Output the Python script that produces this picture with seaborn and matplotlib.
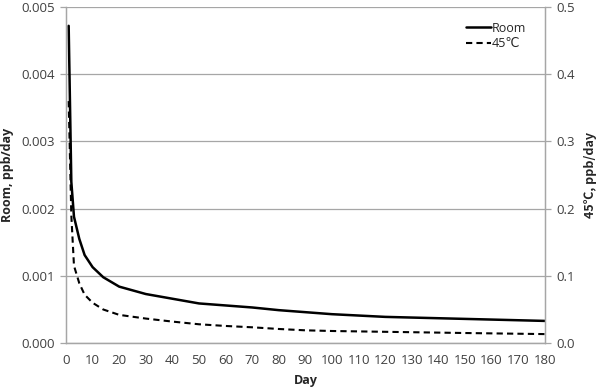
import numpy as np
import pandas as pd
import matplotlib
matplotlib.use("Agg")
import matplotlib.pyplot as plt
import seaborn as sns

days = [1, 2, 3, 5, 7, 10, 14, 20, 30, 40, 50, 60, 70, 80, 90, 100, 120, 150, 180]
room = [0.00472, 0.0024, 0.00188, 0.00155, 0.00131, 0.00113, 0.00098, 0.00084,
        0.00073, 0.00066, 0.00059, 0.00056, 0.00053, 0.00049, 0.00046, 0.00043,
        0.00039, 0.00036, 0.00033]
hot = [0.36, 0.19, 0.115, 0.089, 0.072, 0.060, 0.050, 0.042, 0.0365, 0.032,
       0.028, 0.0255, 0.0235, 0.021, 0.019, 0.018, 0.0168, 0.015, 0.0134]

df = pd.DataFrame({"Day": days, "Room": room, "45": hot})

sns.set_style("white")
plt.rcParams['font.family'] = ['Open Sans', 'DejaVu Sans']
grey = "#a6a6a6"

fig = plt.figure(figsize=(6, 3.89), dpi=100)
ax = fig.add_axes([0.11, 0.118, 0.798, 0.864])
ax2 = ax.twinx()

sns.lineplot(data=df, x="Day", y="Room", ax=ax, color="black", lw=1.8, label="Room", legend=False)
sns.lineplot(data=df, x="Day", y="45", ax=ax2, color="black", lw=1.5, linestyle=(0, (3, 2)),
             label="45℃", legend=False)

ax.set_xlim(0, 180)
ax.set_xticks(np.arange(0, 181, 10))
ax.set_ylim(0, 0.005)
ax.set_yticks(np.arange(0, 0.0051, 0.001))
ax.set_yticklabels([f"{v:.3f}" for v in np.arange(0, 0.0051, 0.001)])
ax2.set_ylim(0, 0.5)
ax2.set_yticks(np.arange(0, 0.51, 0.1))
ax2.set_yticklabels([f"{v:.1f}" for v in np.arange(0, 0.51, 0.1)])

ax.grid(axis="y", color=grey, lw=0.9)
ax.set_axisbelow(True)

for a in (ax, ax2):
    for s in a.spines.values():
        s.set_color(grey)
        s.set_linewidth(0.9)
    a.spines["top"].set_visible(False)
    a.tick_params(length=4, color=grey, width=0.9, labelsize=9.5, labelcolor="#404040", pad=4)

ax.set_xlabel("Day", fontsize=9, fontweight="bold", labelpad=5)
ax.set_ylabel("Room, ppb/day", fontsize=9, fontweight="bold", labelpad=5)
ax2.set_ylabel("45℃, ppb/day", fontsize=9, fontweight="bold", labelpad=7,
               family=['Noto Sans CJK SC', 'DejaVu Sans'])

h1, l1 = ax.get_legend_handles_labels()
h2, l2 = ax2.get_legend_handles_labels()
leg = ax2.legend(h1 + h2, l1 + l2, loc="upper right", frameon=False, fontsize=9,
                 handlelength=2.0, handletextpad=0.1, labelspacing=0.2,
                 bbox_to_anchor=(0.985, 0.99))

fig.savefig("out.png", dpi=100)
